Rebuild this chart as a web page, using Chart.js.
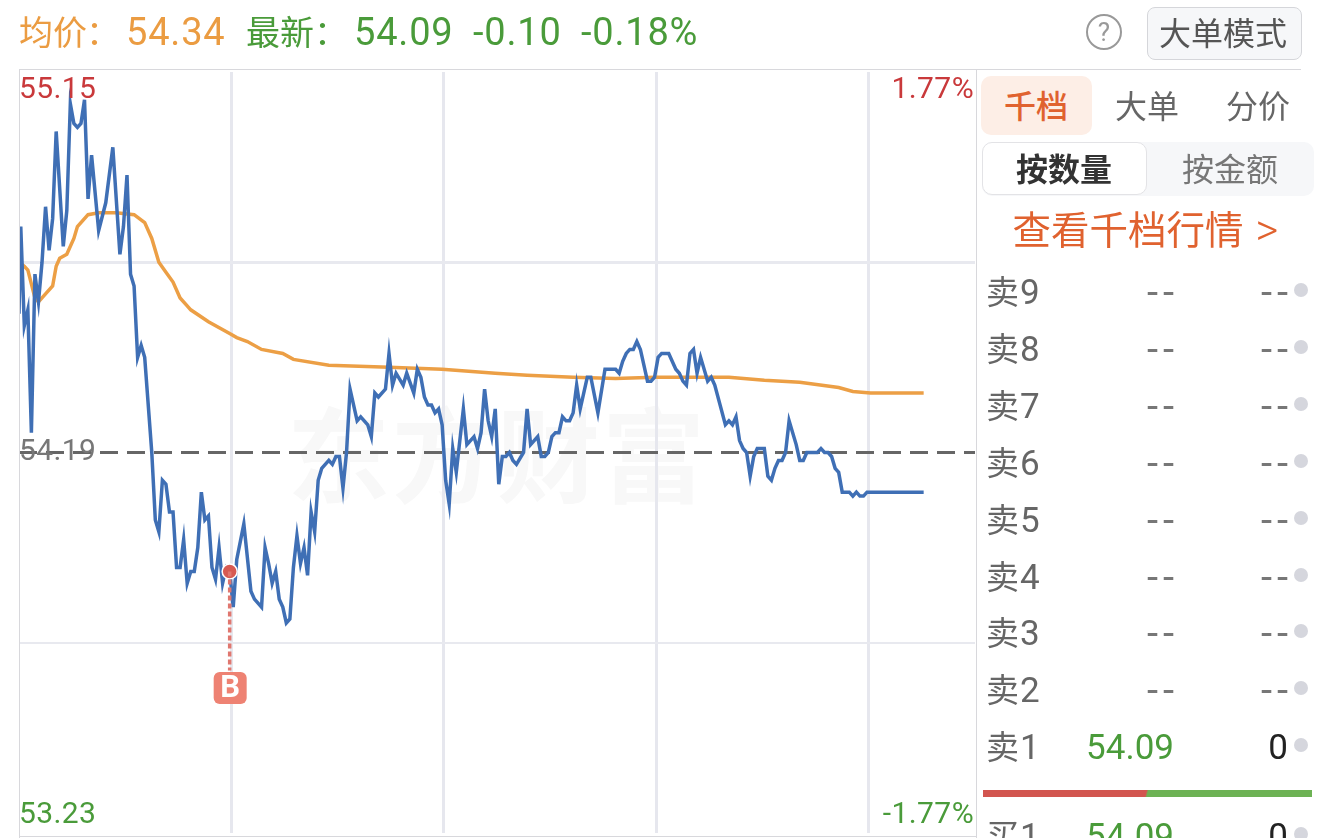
<!DOCTYPE html>
<html>
<head>
	<meta charset="utf-8">
	<title>分时</title>
	<script src="https://cdn.jsdelivr.net/npm/chart.js@4"></script>
	<style>
		html,body{margin:0;padding:0;background:#fff;overflow:hidden;}
		#page{position:relative;width:1320px;height:838px;overflow:hidden;font-family:"Noto Sans CJK SC",sans-serif;}
		#page div,#page span{position:absolute;white-space:nowrap;}
		canvas{position:absolute;left:0;top:0;}
		.num{font-family:Roboto,sans-serif;}
		.c{transform:translate(-50%,-50%);}
		.r{transform:translate(-100%,-50%);}
		.l{transform:translateY(-50%);}
		.hd{font-size:34px;line-height:40px;}
		.hn{font-family:Roboto,sans-serif;font-size:38px;line-height:40px;letter-spacing:.8px;}
		.line{background:#d8d8dc;}
	</style>
</head>
<body>
<div id="page">
	<div class="c" style="left:497px;top:450px;font-size:103px;font-weight:700;color:#f8f8f8;letter-spacing:2px;">东方财富</div>
	<canvas id="myChart" width="1320" height="838"></canvas>
	<div class="line" style="left:19px;top:69px;width:1282px;height:1px;"></div>
	<div class="line" style="left:19px;top:70px;width:1px;height:768px;"></div>
	<div class="line" style="left:976px;top:70px;width:1px;height:768px;"></div>
	<div class="line" style="left:19px;top:836px;width:957px;height:1px;"></div>

	<div class="hd l" style="left:19px;top:31px;color:#eb9c42;">均价</div>
	<div class="hd l" style="left:86px;top:31px;color:#eb9c42;">：</div>
	<div class="hn l" style="left:126px;top:32px;color:#eb9c42;" id="avgText"></div>
	<div class="hd l" style="left:246px;top:31px;color:#4a9b3a;">最新</div>
	<div class="hd l" style="left:314px;top:31px;color:#4a9b3a;">：</div>
	<div class="hn l" style="left:354px;top:32px;color:#4a9b3a;" id="lastText"></div>
	<div class="hn l" style="left:473px;top:32px;color:#4a9b3a;" id="chgText"></div>
	<div class="hn l" style="left:581px;top:32px;color:#4a9b3a;" id="pctText"></div>

	<div class="c" style="left:1104px;top:32px;width:32px;height:32px;border:2px solid #999;border-radius:50%;"></div>
	<div class="c num" style="left:1104px;top:32px;font-size:26px;color:#999;">?</div>
	<div style="left:1147px;top:7px;width:153px;height:51px;background:#f6f7f9;border:1px solid #d5d6da;border-radius:8px;"></div>
	<div class="c" style="left:1223px;top:31px;font-size:32px;color:#555;">大单模式</div>

	<div style="left:981px;top:76px;width:111px;height:59px;background:#fdeee6;border-radius:10px;"></div>
	<div class="c" style="left:1036px;top:104px;font-size:32px;font-weight:500;color:#e0622f;">千档</div>
	<div class="c" style="left:1147px;top:104px;font-size:32px;color:#666;">大单</div>
	<div class="c" style="left:1258px;top:104px;font-size:32px;color:#666;">分价</div>

	<div style="left:982px;top:142px;width:332px;height:54px;background:#f6f7f9;border-radius:10px;"></div>
	<div style="left:982px;top:142px;width:163px;height:51px;background:#fff;border:1px solid #e3e3e6;border-radius:10px;"></div>
	<div class="c" style="left:1064px;top:167px;font-size:32px;font-weight:700;color:#333;">按数量</div>
	<div class="c" style="left:1230px;top:167px;font-size:32px;color:#777;">按金额</div>
	<div class="c" style="left:1128px;top:227px;font-size:38.5px;color:#e0622f;">查看千档行情</div>
	<div class="c num" style="left:1267px;top:230px;font-size:44px;font-weight:300;color:#e0622f;">&gt;</div>

	<div id="book"></div>
	<div style="left:983px;top:790px;width:329px;height:7px;background:linear-gradient(105deg,#d2554f 49.5%,#6db254 50%);"></div>
</div>
<script type="text/javascript">
	// 分时价格 (minute index / price)
	var priceMinutes = [0.5,1,2,3,4,5,6,7,8,9,10,11,13,14,15,16,17,18,19,20,21,23,25,27,29,30,31,32,33,34,35,36,38,39,40,
		41,42,43,44,45,46,47,48,49,50,51,52,53,54,55,56,57,58,59,60,61,62,64,66,67,69,70,71,72,73,74,75,76,77,78,79,80,
		81,82,83,84,85,86,88,89,90,91,92,93,94,96,97,99,100,101,102,104,105,106,107,109,110,112,113,114,115,116,117,118,119,120,
		121,122,123,124,126,127,129,130,131,132,133,134,135,136,137,138,139,140,141,143,144,145,147,148,149,150,151,152,153,154,155,156,157,158,159,
		161,162,164,166,169,170,171,172,173,174,175,176,178,179,180,181,182,184,186,187,188,189,190,191,192,193,195,196,197,
		200,201,202,203,204,205,206,207,208,209,211,212,213,214,215,216,217,218,220,221,222,223,226,227,228,229,230,231,232,233,235,236,237,238,239,240,256];
	var priceValues = [54.54,54.76,54.51,54.55,54.24,54.64,54.57,54.67,54.81,54.70,54.78,55.00,54.71,54.80,55.07,55.02,55.01,55.02,55.08,54.83,54.94,54.75,54.82,54.96,54.69,54.76,54.89,54.64,54.61,54.43,54.46,54.43,54.19,54.02,53.99,
		54.12,54.11,54.04,54.04,53.90,53.90,53.97,53.86,53.89,53.89,53.95,54.09,54.02,54.03,53.90,53.87,53.95,53.86,53.90,53.89,53.80,53.92,54.01,53.84,53.82,53.80,53.95,53.91,53.86,53.89,53.82,53.80,53.76,53.77,53.90,53.98,53.91,
		53.95,53.88,54.04,53.99,54.12,54.15,54.17,54.16,54.18,54.18,54.10,54.19,54.35,54.27,54.28,54.26,54.23,54.34,54.33,54.35,54.44,54.36,54.39,54.36,54.39,54.34,54.40,54.38,54.33,54.31,54.31,54.29,54.30,54.26,
		54.12,54.06,54.20,54.14,54.30,54.21,54.23,54.20,54.24,54.35,54.27,54.23,54.30,54.11,54.18,54.18,54.19,54.17,54.16,54.19,54.30,54.21,54.23,54.18,54.18,54.19,54.23,54.24,54.24,54.28,54.27,54.27,54.29,54.36,54.30,
		54.38,54.38,54.29,54.40,54.40,54.39,54.42,54.44,54.45,54.45,54.47,54.45,54.37,54.37,54.38,54.43,54.44,54.44,54.40,54.39,54.37,54.36,54.44,54.45,54.39,54.43,54.37,54.38,54.36,
		54.26,54.27,54.26,54.28,54.22,54.20,54.19,54.13,54.18,54.20,54.20,54.13,54.12,54.15,54.17,54.17,54.19,54.27,54.21,54.17,54.17,54.19,54.19,54.20,54.19,54.19,54.18,54.15,54.14,54.09,54.09,54.08,54.09,54.08,54.08,54.09,54.09];
	// 均价
	var avgMinutes = [0.5,2,3,5,6,8,10,11,12,14,16,17,20,23,28,33,36,38,40,42,44,46,48,49,54,60,62,65,69,75,78,88,105,120,135,144,157,169,180,201,211,221,232,236,241,256];
	var avgValues = [54.67,54.66,54.65,54.58,54.57,54.59,54.61,54.66,54.68,54.69,54.73,54.76,54.79,54.795,54.795,54.79,54.77,54.73,54.67,54.645,54.62,54.58,54.56,54.55,54.52,54.49,54.48,54.47,54.45,54.44,54.425,54.41,54.405,54.40,54.39,54.385,54.38,54.377,54.38,54.38,54.372,54.367,54.354,54.344,54.34,54.34];

	var preClose = 54.19;
	var priceMax = 55.15;
	var priceMin = 53.23;
	var gridPrices = [53.71,54.67];
	var gridMinutes = [60.5,120.5,180.5,240.5];
	var axisMinutes = [0.5,270.5];
	var buyMinute = 60;
	var buyPrice = 53.89;
	var buyStemEnd = 53.64;
	var buyBadgePrice = 53.596;
	var maxLabel = "55.15", midLabel = "54.19", minLabel = "53.23";
	var maxPct = "1.77%", minPct = "-1.77%";

	// 盘口
	var askRows = ["卖 9","卖 8","卖 7","卖 6","卖 5","卖 4","卖 3","卖 2","卖 1"];
	var askPrices = ["--","--","--","--","--","--","--","--","54.09"];
	var askVolumes = ["--","--","--","--","--","--","--","--","0"];
	var bidRows = ["买 1"];
	var bidPrices = ["54.09"];
	var bidVolumes = ["0"];

	document.getElementById("avgText").textContent = "54.34";
	document.getElementById("lastText").textContent = "54.09";
	document.getElementById("chgText").textContent = "-0.10";
	document.getElementById("pctText").textContent = "-0.18%";

	function valueCell(text, x, y, color){
		if(text == "--"){
			return '<div class="r num" style="left:'+(x+5)+'px;top:'+y+'px;font-size:40px;letter-spacing:5px;color:#777;">--</div>';
		}
		return '<div class="r num" style="left:'+x+'px;top:'+y+'px;font-size:35px;color:'+color+';">'+text+'</div>';
	}
	function addRow(book, name, price, vol, y){
		var html = '<div class="l" style="left:986px;top:'+(y-2)+'px;font-size:33px;color:#666;">'+name.charAt(0)+'</div>';
		html += '<div class="l num" style="left:1020px;top:'+y+'px;font-size:35px;color:#666;">'+name.charAt(2)+'</div>';
		html += valueCell(price, 1174, y, "#4a9b3a");
		html += valueCell(vol, 1288, y, "#222");
		html += '<div class="c" style="left:1301px;top:'+(y-2)+'px;width:14px;height:14px;border-radius:50%;background:#d5d6dd;"></div>';
		book.innerHTML += html;
	}
	var book = document.getElementById("book");
	askRows.forEach(function(name,idx){
		addRow(book, name, askPrices[idx], askVolumes[idx], 292 + idx*56.9);
	});
	bidRows.forEach(function(name,idx){
		addRow(book, name, bidPrices[idx], bidVolumes[idx], 836);
	});

	function zip(xs, ys){
		return xs.map(function(x,i){ return {x:x, y:ys[i]}; });
	}
	// B 点就是价格线上的一个点, 其它点不画
	function isBuyPoint(c){
		return c.parsed && c.parsed.x == buyMinute;
	}

	// 角上的价格和涨跌幅, B 标记
	var overlay = {
		id: "overlay",
		afterDatasetsDraw: function(chart){
			var ctx = chart.ctx, y = chart.scales.y, x = chart.scales.x, area = chart.chartArea;
			ctx.save();
			ctx.font = "30px Roboto";
			ctx.letterSpacing = "0.4px";
			ctx.textBaseline = "middle";
			ctx.textAlign = "left";
			ctx.fillStyle = "#c9393b";
			ctx.fillText(maxLabel, area.left, y.getPixelForValue(priceMax) + 18);
			ctx.fillStyle = "#777";
			ctx.fillText(midLabel, area.left, y.getPixelForValue(preClose));
			ctx.fillStyle = "#4a9b3a";
			ctx.fillText(minLabel, area.left, y.getPixelForValue(priceMin) - 18);
			ctx.textAlign = "right";
			ctx.fillStyle = "#c9393b";
			ctx.fillText(maxPct, area.right - 1, y.getPixelForValue(priceMax) + 18);
			ctx.fillStyle = "#4a9b3a";
			ctx.fillText(minPct, area.right - 1, y.getPixelForValue(priceMin) - 18);

			var bx = x.getPixelForValue(buyMinute), by = y.getPixelForValue(buyBadgePrice);
			ctx.letterSpacing = "0px";
			ctx.fillStyle = "#ee8273";
			ctx.beginPath();
			ctx.roundRect(bx - 16, by - 16, 33, 32, 6);
			ctx.fill();
			ctx.fillStyle = "#fff";
			ctx.textAlign = "center";
			ctx.font = "bold 31px Roboto";
			ctx.fillText("B", bx + 0.5, by + 1);
			ctx.restore();
		}
	};

	var ctx = document.getElementById("myChart").getContext("2d");
	var chart = new Chart(ctx, {
		type: "line",
		data: {
			datasets: [
				{ data: [{x:buyMinute,y:buyPrice},{x:buyMinute,y:buyStemEnd}], order: 1, borderColor: "#e0776f", borderWidth: 3.5, borderDash: [5,3], pointRadius: 0 },
				{
					data: zip(priceMinutes, priceValues), order: 2, borderColor: "#3f6fb5", borderWidth: 3.5, tension: 0, borderJoinStyle: "miter",
					pointRadius: function(c){ return isBuyPoint(c) ? 7.5 : 0; },
					pointBackgroundColor: "#d75a52", pointBorderColor: "#fff", pointBorderWidth: 1.5
				},
				{ data: zip(avgMinutes, avgValues), order: 3, borderColor: "#ec9f45", borderWidth: 3.5, pointRadius: 0, tension: 0 },
				{ data: zip(axisMinutes, [preClose,preClose]), order: 4, borderColor: "#666", borderWidth: 3, borderDash: [18,9], pointRadius: 0 }
			]
		},
		options: {
			responsive: false,
			animation: false,
			layout: { padding: { left: 19, top: 72, right: 345, bottom: 5 } },
			plugins: { legend: { display: false }, tooltip: { enabled: false } },
			scales: {
				x: {
					type: "linear",
					min: axisMinutes[0],
					max: axisMinutes[1],
					border: { display: false },
					ticks: { display: false },
					grid: { color: "#e6e7ee", lineWidth: 3, drawTicks: false },
					afterBuildTicks: function(scale){
						scale.ticks = gridMinutes.map(function(v){ return {value:v}; });
					}
				},
				y: {
					min: priceMin,
					max: priceMax,
					border: { display: false },
					ticks: { display: false },
					grid: {
						color: "#e8e9ef",
						lineWidth: function(c){ return c.tick && c.tick.value > preClose ? 3 : 2; },
						drawTicks: false
					},
					afterBuildTicks: function(scale){
						scale.ticks = gridPrices.map(function(v){ return {value:v}; });
					}
				}
			}
		},
		plugins: [overlay]
	});
</script>
</body>
</html>
